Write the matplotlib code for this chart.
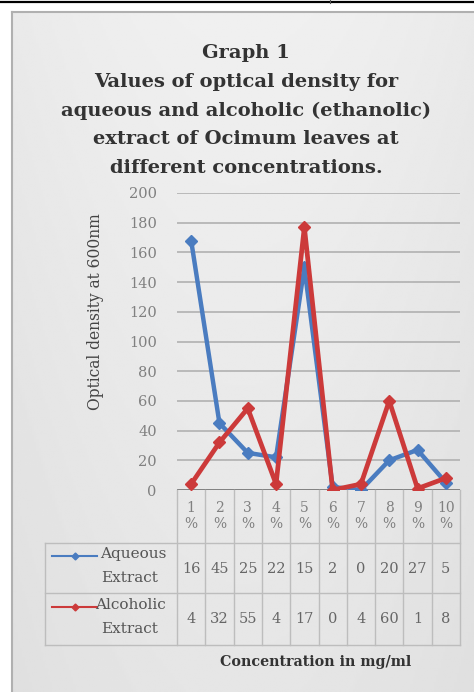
import numpy as np
import matplotlib.pyplot as plt
from matplotlib.lines import Line2D

categories = ['1\n%', '2\n%', '3\n%', '4\n%', '5\n%', '6\n%', '7\n%', '8\n%', '9\n%', '10\n%']
aqueous = [168, 45, 25, 22, 150, 2, 0, 20, 27, 5]
alcoholic = [4, 32, 55, 4, 177, 0, 4, 60, 1, 8]
yticks = [0, 20, 40, 60, 80, 100, 120, 140, 160, 180, 200]

W, H = 474, 692
fig = plt.figure(figsize=(W / 100, H / 100), dpi=100)
fig.patch.set_facecolor('white')

def fx(x):
    return x / W

def fy(y):
    return 1 - y / H

serif = 'DejaVu Serif'
blue = '#4a7cc0'
red = '#cc3a3a'

# background panel with soft gradient
bg = fig.add_axes([fx(12), 0, 1 - fx(12), fy(12)], zorder=-10)
xx = np.linspace(-1, 1, 200)
yy = np.linspace(0, 1, 300)
X, Y = np.meshgrid(xx, yy)
grad = 0.94 - 0.025 * X**2 - 0.04 * Y
bg.imshow(grad, cmap='gray', vmin=0, vmax=1, aspect='auto', extent=[0, 1, 0, 1])
bg.set_xlim(0, 1)
bg.set_ylim(0, 1)
bg.axis('off')
fig.add_artist(Line2D([fx(12), fx(12)], [0, fy(12)], color='#b0b0b0', lw=1.5))
fig.add_artist(Line2D([fx(12), 1], [fy(12), fy(12)], color='#b0b0b0', lw=1.5))
fig.add_artist(Line2D([0, 1], [fy(1.5), fy(1.5)], color='black', lw=1.6))
fig.add_artist(Line2D([fx(330), fx(330)], [1, fy(3)], color='#555555', lw=0.8))

# title
title = ['Graph 1', 'Values of optical density for',
         'aqueous and alcoholic (ethanolic)',
         'extract of Ocimum leaves at', 'different concentrations.']
for i, t in enumerate(title):
    fig.text(fx(246), fy(53 + i * 28.8), t, ha='center', va='center',
             fontsize=14, fontweight='bold', family=serif, color='#333333')

# main plot
left, right, top, bottom = 177, 460, 193, 490
ax = fig.add_axes([fx(left), fy(bottom), fx(right - left), (bottom - top) / H])
ax.patch.set_alpha(0)
x = np.arange(len(categories))
ax.plot(x, aqueous, color=blue, lw=3.2, marker='D', ms=6, zorder=3)
ax.plot(x, alcoholic, color=red, lw=3.4, marker='D', ms=6.5, zorder=4)
ax.set_xlim(-0.5, len(categories) - 0.5)
ax.set_ylim(0, 200)
ax.set_yticks(yticks)
ax.set_yticklabels([str(v) for v in yticks], family=serif, fontsize=10.5, color='#808080')
ax.tick_params(axis='y', length=0, pad=14.5)
ax.set_xticks([])
for v in yticks[1:]:
    ax.axhline(v, color='#b5b5b5', lw=1.3, zorder=1)
ax.axhline(0, color='#777777', lw=2, zorder=2)
for s in ax.spines.values():
    s.set_visible(False)
fig.text(fx(95), fy(312), 'Optical density at 600nm', rotation=90, ha='center',
         va='center', fontsize=11.2, family=serif, color='#444444')

# data table under the axis
tcol = '#bdbdbd'
rows = [bottom, 543, 593, 645]
n = len(categories)
for i in range(n + 1):
    xf = fx(left + (right - left) * i / n)
    fig.add_artist(Line2D([xf, xf], [fy(rows[0]), fy(rows[-1])], color=tcol, lw=1))
for r in rows[1:]:
    fig.add_artist(Line2D([fx(45), fx(right)], [fy(r), fy(r)], color=tcol, lw=1))
fig.add_artist(Line2D([fx(45), fx(45)], [fy(rows[1]), fy(rows[-1])], color=tcol, lw=1))

for i, c in enumerate(categories):
    xc = fx(left + (right - left) * (i + 0.5) / n)
    fig.text(xc, fy(516), c, ha='center', va='center', fontsize=10,
             family=serif, color='#808080', linespacing=1.25)
    fig.text(xc, fy(569), str(aqueous[i])[:2], ha='center', va='center',
             fontsize=10.5, family=serif, color='#666666')
    fig.text(xc, fy(619), str(alcoholic[i])[:2], ha='center', va='center',
             fontsize=10.5, family=serif, color='#666666')

for (name, col, yl) in [('Aqueous', blue, 556), ('Alcoholic', red, 607)]:
    fig.add_artist(Line2D([fx(52), fx(97)], [fy(yl), fy(yl)], color=col, lw=1.5))
    fig.add_artist(Line2D([fx(74.5)], [fy(yl)], color=col, marker='D', ms=3.5))
    fig.text(fx(166), fy(yl - 2), name, ha='right', va='center', fontsize=11,
             family=serif, color='#555555')
    fig.text(fx(158), fy(yl + 22), 'Extract', ha='right', va='center', fontsize=11,
             family=serif, color='#555555')

fig.text(fx(316), fy(662), 'Concentration in mg/ml', ha='center', va='center',
         fontsize=10.3, fontweight='bold', family=serif, color='#333333')

plt.savefig('out.png', dpi=100)
